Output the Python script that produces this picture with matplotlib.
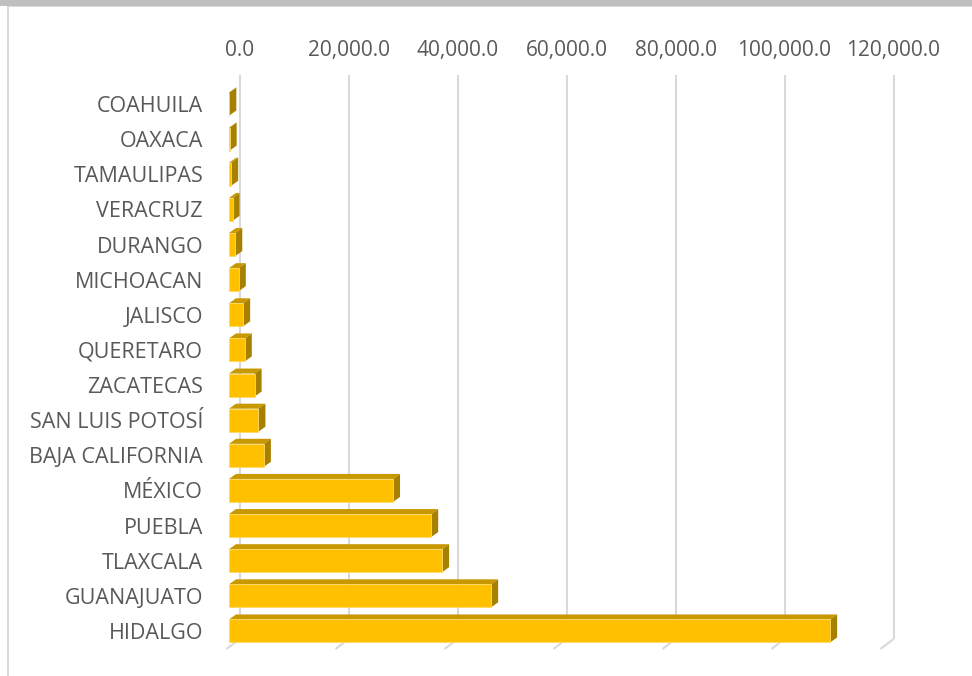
import matplotlib.pyplot as plt
from matplotlib.patches import Polygon, Rectangle

plt.rcParams['font.family'] = ['Open Sans', 'DejaVu Sans']

# Estados, de arriba hacia abajo
estados = ["COAHUILA", "OAXACA", "TAMAULIPAS", "VERACRUZ", "DURANGO",
           "MICHOACAN", "JALISCO", "QUERETARO", "ZACATECAS", "SAN LUIS POTOSÍ",
           "BAJA CALIFORNIA", "MÉXICO", "PUEBLA", "TLAXCALA", "GUANAJUATO",
           "HIDALGO"]
valores = [60, 120, 400, 650, 1150, 1800, 2600, 2900, 4700, 5400, 6400,
           30100, 37100, 39100, 48100, 110300]
ticks = [0, 20000, 40000, 60000, 80000, 100000, 120000]
tick_labels = ["0.0", "20,000.0", "40,000.0", "60,000.0", "80,000.0",
               "100,000.0", "120,000.0"]

W, H = 972, 676
fig = plt.figure(figsize=(W / 100, H / 100), dpi=100)
fig.patch.set_facecolor("white")

# axes box in pixels (front plane of the bars)
ax_left, ax_right, ax_top, ax_bottom = 229, 883, 75, 639
ax = fig.add_axes([ax_left / W, (H - ax_bottom) / H,
                   (ax_right - ax_left) / W, (ax_bottom - ax_top) / H])
row_px = 35.13
first_row = 104
y_top = (ax_top - first_row) / row_px
y_bot = (ax_bottom - first_row) / row_px
ax.set_xlim(0, ticks[-1])
ax.set_ylim(y_bot, y_top)

# pixel -> data helpers
px_x = ticks[-1] / (ax_right - ax_left)
px_y = 1 / row_px

grid_c = "#d9d9d9"
text_c = "#595959"

# gridlines on the back wall with the slanted floor segment
back_dx = 10.5
for t in ticks:
    xb = t + back_dx * px_x
    ax.plot([xb, xb], [y_top, y_bot], color=grid_c, lw=1.5, zorder=1,
            clip_on=False, solid_capstyle="butt")
    ax.plot([xb, t - 2.5 * px_x], [y_bot, y_bot + 10 * px_y], color=grid_c,
            lw=1.5, zorder=1, clip_on=False, solid_capstyle="butt")

for t, lab in zip(ticks, tick_labels):
    ax.text(t + back_dx * px_x, (56 - first_row) / row_px, lab,
            ha="center", va="baseline", fontsize=15, color=text_c,
            clip_on=False)

# 3-D looking bars: front face, top face and right face
front_c = "#ffc000"
top_c = "#c79800"
side_c = "#a88000"
bar_h = 23 / row_px
dep_x = 7 * px_x
dep_y = -5 * px_y

for i, v in enumerate(valores):
    y0 = i - bar_h / 2
    y1 = i + bar_h / 2
    top = Polygon([(0, y0), (v, y0), (v + dep_x, y0 + dep_y),
                   (dep_x, y0 + dep_y)], closed=True, facecolor=top_c,
                  edgecolor="none", zorder=3, clip_on=False)
    side = Polygon([(v, y0), (v, y1), (v + dep_x, y1 + dep_y),
                    (v + dep_x, y0 + dep_y)], closed=True, facecolor=side_c,
                   edgecolor="none", zorder=3, clip_on=False)
    ax.add_patch(top)
    ax.add_patch(side)
ax.barh(range(len(valores)), valores, height=bar_h, color=front_c,
        edgecolor="#ffd966", linewidth=0.6, zorder=4, clip_on=False)

ax.set_yticks(range(len(estados)))
ax.set_yticklabels(estados, fontsize=15.5, color=text_c)
ax.tick_params(axis="y", length=0, pad=18.7)
ax.set_xticks([])
for s in ax.spines.values():
    s.set_visible(False)
ax.patch.set_alpha(0)

# window frame: grey band on top and thin line on the left
fig.add_artist(Rectangle((0, 1 - 6 / H), 1, 6 / H, transform=fig.transFigure,
                         facecolor="#bfbfbf", edgecolor="none"))
fig.add_artist(Rectangle((7 / W, 1 - 7 / H), 1, 1 / H, transform=fig.transFigure,
                         facecolor="#dcdcdc", edgecolor="none"))
fig.add_artist(Rectangle((7 / W, 0), 2 / W, 1 - 6 / H, transform=fig.transFigure,
                         facecolor="#d9d9d9", edgecolor="none"))

fig.savefig("out.png", dpi=100, facecolor="white")
